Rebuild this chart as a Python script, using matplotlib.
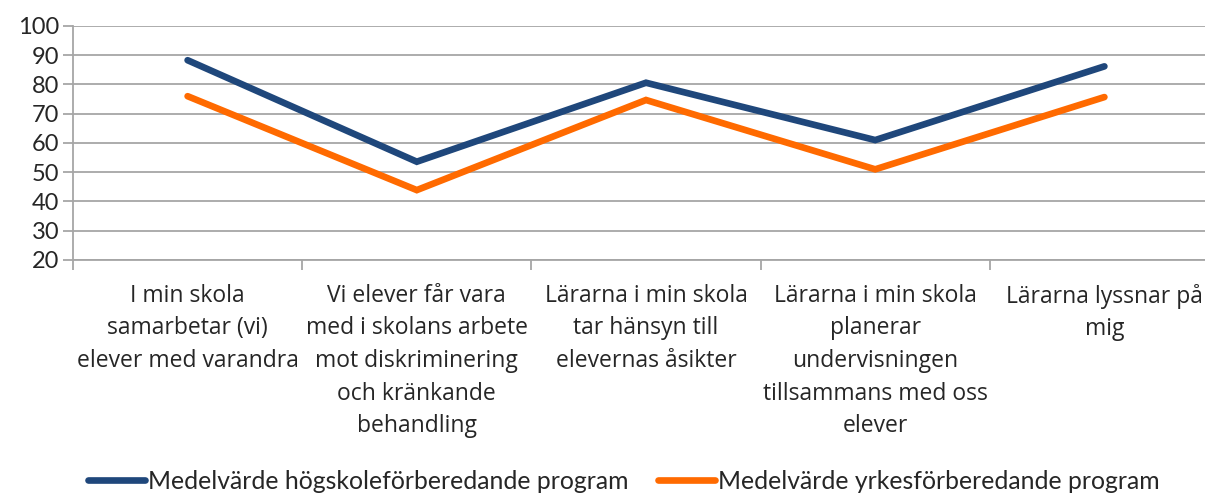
import matplotlib.pyplot as plt
from matplotlib.ticker import FixedLocator

# påståenden (kategorier)
categories = [
    "I min skola\nsamarbetar (vi)\nelever med varandra",
    "Vi elever får vara\nmed i skolans arbete\nmot diskriminering\noch kränkande\nbehandling",
    "Lärarna i min skola\ntar hänsyn till\nelevernas åsikter",
    "Lärarna i min skola\nplanerar\nundervisningen\ntillsammans med oss\nelever",
    "Lärarna lyssnar på\nmig",
]

hogskole = [88.3, 53.6, 80.6, 61.0, 86.2]
yrkes = [76.0, 43.9, 74.7, 51.0, 75.7]

series_names = ["Medelvärde högskoleförberedande program",
                "Medelvärde yrkesförberedande program"]

plt.rcParams['font.family'] = ['Lato', 'DejaVu Sans']

fig = plt.figure(figsize=(12.05, 4.94), dpi=100)
ax = fig.add_axes([73 / 1205, 1 - 260 / 494, 1146 / 1205, 234 / 494])

x = list(range(len(categories)))
ax.plot(x, hogskole, color="#1F477B", lw=4.8, solid_capstyle="round",
        solid_joinstyle="miter", label=series_names[0], zorder=3)
ax.plot(x, yrkes, color="#FF6A00", lw=4.8, solid_capstyle="round",
        solid_joinstyle="miter", label=series_names[1], zorder=3)

ax.set_xlim(-0.5, len(categories) - 0.5)
ax.set_ylim(20, 100)
ax.set_yticks(range(20, 101, 10))
ax.yaxis.grid(True, color="#A6A6A6", lw=1.3)
ax.set_axisbelow(True)

# kategorigränser som tickmarkeringar, etiketter i mitten
ax.xaxis.set_major_locator(FixedLocator([i - 0.5 for i in range(len(categories) + 1)]))
ax.xaxis.set_minor_locator(FixedLocator(x))
ax.set_xticklabels([])
ax.set_xticklabels(categories, minor=True, fontsize=16.5, linespacing=1.48,
                   va="top", family=["Open Sans", "DejaVu Sans"])
ax.tick_params(axis="x", which="major", length=7, color="#A6A6A6", width=1.3)
ax.tick_params(axis="x", which="minor", length=0, pad=17)
ax.tick_params(axis="y", length=7, color="#A6A6A6", width=1.3, labelsize=17, pad=3,
               labelcolor="#262626")
ax.tick_params(axis="x", which="minor", labelcolor="#262626")

for side in ["top", "right"]:
    ax.spines[side].set_visible(False)
for side in ["left", "bottom"]:
    ax.spines[side].set_color("#A6A6A6")
    ax.spines[side].set_linewidth(1.3)

leg = fig.legend(loc="center", bbox_to_anchor=(0.518, 1 - 481 / 494), ncol=2, frameon=False,
                 fontsize=17.8, handlelength=2.3, handletextpad=0.12, columnspacing=1.2)
for t in leg.get_texts():
    t.set_color("#262626")

fig.savefig("out.png", dpi=100)
